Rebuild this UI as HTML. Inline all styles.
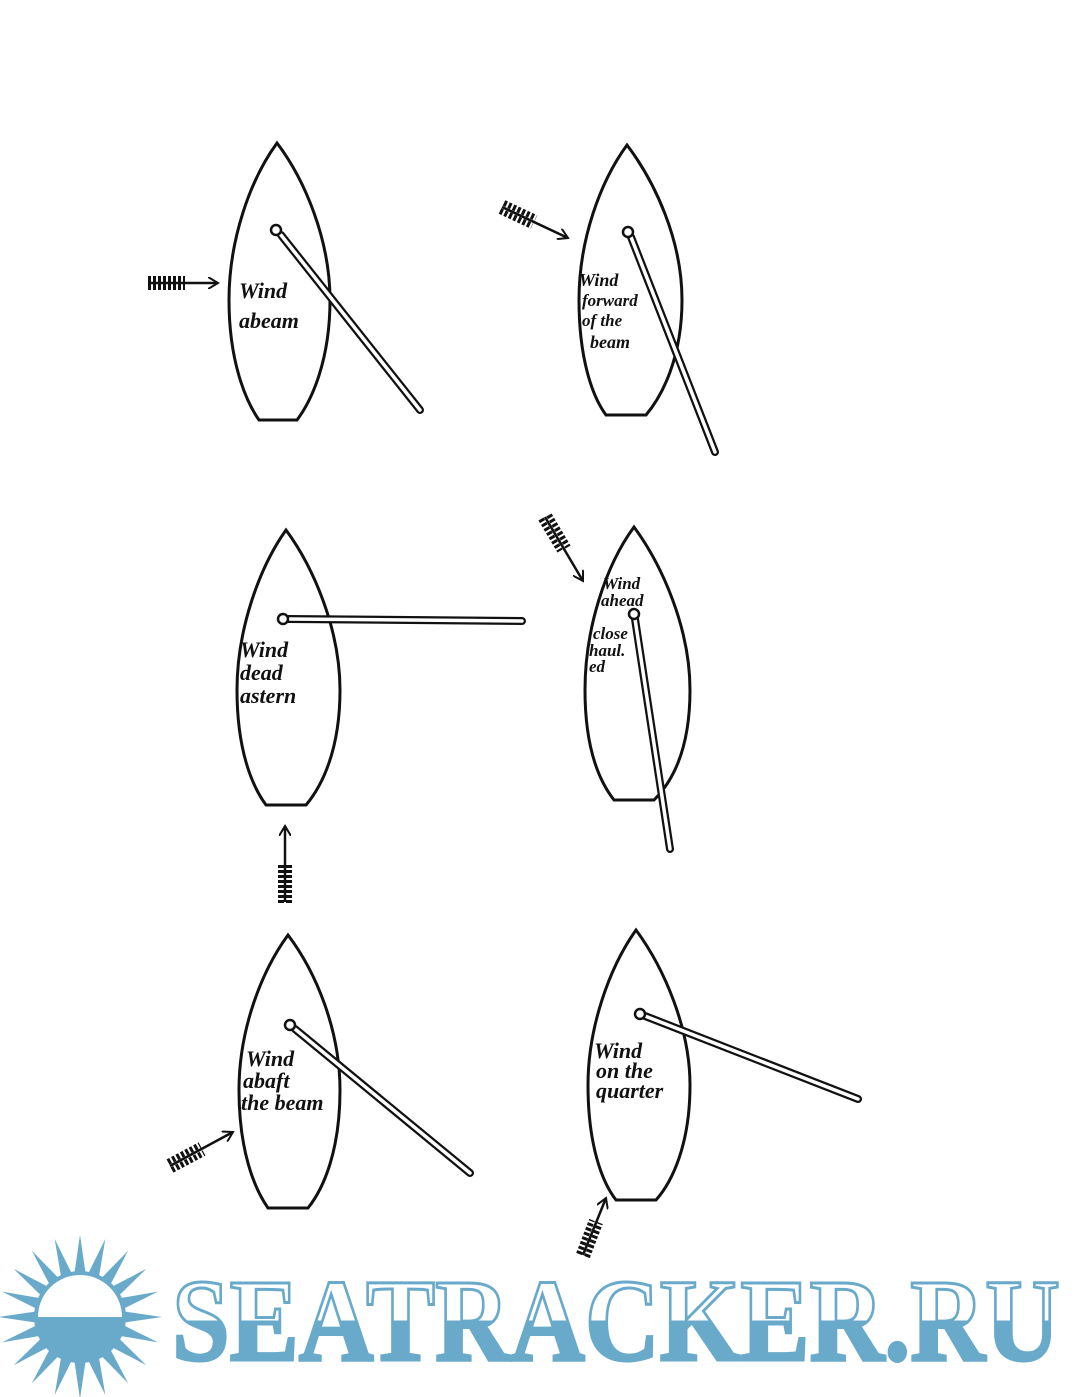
<!DOCTYPE html>
<html><head><meta charset="utf-8"><style>
html,body{margin:0;padding:0;background:#fff;}
svg{display:block}
.t{font-family:"Liberation Serif",serif;font-style:italic;font-weight:bold;fill:#111;}
</style></head><body>
<svg width="1080" height="1397" viewBox="0 0 1080 1397" xmlns="http://www.w3.org/2000/svg">
<defs>
<marker id="ah" markerWidth="12" markerHeight="12" refX="10" refY="6" orient="auto" markerUnits="userSpaceOnUse">
<path d="M0,0 L10,6 L0,12" fill="none" stroke="#111" stroke-width="2"/>
</marker>
<linearGradient id="lg" x1="0" y1="0" x2="0" y2="1">
<stop offset="0.5" stop-color="#fff"/><stop offset="0.5" stop-color="#69aacb"/>
</linearGradient>
</defs>
<g fill="none" stroke="#111" stroke-width="3">
<path d="M277,143 C250,180 229,240 229,300 C229,360 245,400 259,420 L297,420 C312,400 330,360 330,300 C330,240 305,180 277,143 Z"/>
<path d="M627,145 C600,182 579,240 579,300 C579,358 592,396 606,415 L646,415 C662,396 682,358 682,300 C682,240 655,182 627,145 Z"/>
<path d="M286,530 C259,568 237,630 237,690 C237,750 252,786 266,805 L306,805 C322,786 340,750 340,690 C340,630 314,568 286,530 Z"/>
<path d="M634,527 C606,565 585,628 585,690 C585,750 600,782 614,800 L654,800 C672,782 690,750 690,690 C690,628 662,565 634,527 Z"/>
<path d="M288,935 C261,972 239,1030 239,1090 C239,1150 254,1188 268,1208 L308,1208 C324,1188 340,1150 340,1090 C340,1030 316,972 288,935 Z"/>
<path d="M636,930 C609,968 588,1028 588,1085 C588,1145 602,1182 616,1200 L656,1200 C672,1182 690,1145 690,1085 C690,1028 664,968 636,930 Z"/>
</g>
<g stroke-linecap="round">
<g stroke="#111" stroke-width="8"><line x1="281" y1="235" x2="420" y2="410"/><line x1="631" y1="237" x2="715" y2="452"/><line x1="288" y1="619" x2="522" y2="621"/><line x1="635" y1="619" x2="670" y2="849"/><line x1="295" y1="1029" x2="470" y2="1173"/><line x1="645" y1="1016" x2="858" y2="1099"/></g>
<g stroke="#fff" stroke-width="3.5"><line x1="281" y1="235" x2="420" y2="410"/><line x1="631" y1="237" x2="715" y2="452"/><line x1="288" y1="619" x2="522" y2="621"/><line x1="635" y1="619" x2="670" y2="849"/><line x1="295" y1="1029" x2="470" y2="1173"/><line x1="645" y1="1016" x2="858" y2="1099"/></g>
</g>
<g fill="#fff" stroke="#111" stroke-width="2.5">
<circle cx="276" cy="230" r="5"/><circle cx="628" cy="232" r="5"/><circle cx="283" cy="619" r="5"/><circle cx="634" cy="614" r="5"/><circle cx="290" cy="1025" r="5"/><circle cx="640" cy="1014" r="5"/>
</g>
<g stroke="#111" stroke-width="2.5" fill="none" marker-end="url(#ah)">
<line x1="148" y1="283" x2="218" y2="283"/>
<line x1="502" y1="207" x2="568" y2="238"/>
<line x1="545" y1="517" x2="583" y2="581"/>
<line x1="285" y1="902" x2="285" y2="826"/>
<line x1="170" y1="1166" x2="233" y2="1132"/>
<line x1="583" y1="1255" x2="606" y2="1198"/>
</g>
<g stroke="#111" stroke-width="6" stroke-dasharray="3 2">
<line x1="148" y1="279" x2="185" y2="279"/><line x1="148" y1="287" x2="185" y2="287"/>
<line x1="504" y1="203" x2="536" y2="218"/><line x1="500" y1="211" x2="532" y2="226"/>
<line x1="541" y1="519" x2="560" y2="551"/><line x1="549" y1="515" x2="568" y2="547"/>
<line x1="281" y1="903" x2="281" y2="865"/><line x1="289" y1="903" x2="289" y2="865"/>
<line x1="168" y1="1162" x2="200" y2="1145"/><line x1="172" y1="1170" x2="204" y2="1153"/>
<line x1="579" y1="1254" x2="592" y2="1220"/><line x1="587" y1="1257" x2="600" y2="1223"/>
</g>
<g class="t" font-size="22">
<text x="239" y="298">Wind</text><text x="239" y="328">abeam</text>
<text x="579" y="286" font-size="18">Wind</text><text x="582" y="306" font-size="17">forward</text><text x="582" y="326" font-size="17">of the</text><text x="590" y="348" font-size="18">beam</text>
<text x="240" y="657">Wind</text><text x="240" y="680">dead</text><text x="240" y="703">astern</text>
<text x="603" y="589" font-size="17">Wind</text><text x="601" y="606" font-size="17">ahead</text><text x="593" y="639" font-size="17">close</text><text x="589" y="656" font-size="17">haul.</text><text x="589" y="672" font-size="17">ed</text>
<text x="246" y="1066">Wind</text><text x="243" y="1088">abaft</text><text x="241" y="1110">the beam</text>
<text x="594" y="1058">Wind</text><text x="596" y="1078">on the</text><text x="596" y="1098">quarter</text>
</g>
<g transform="translate(80,1317)" fill="#69aacb">
<g id="r"><polygon points="0,-82 12,0 0,82 -12,0"/></g>
<use href="#r" transform="rotate(18)"/><use href="#r" transform="rotate(36)"/><use href="#r" transform="rotate(54)"/><use href="#r" transform="rotate(72)"/><use href="#r" transform="rotate(90)"/><use href="#r" transform="rotate(108)"/><use href="#r" transform="rotate(126)"/><use href="#r" transform="rotate(144)"/><use href="#r" transform="rotate(162)"/>
<circle r="46"/>
<path d="M-42,0 A42,42 0 0 1 42,0 Z" fill="#fff"/>
</g>
<text x="172" y="1360" font-family="Liberation Serif,serif" font-weight="bold" font-size="118" textLength="888" lengthAdjust="spacingAndGlyphs" fill="url(#lg)" stroke="#69aacb" stroke-width="3">SEATRACKER.RU</text>
</svg>
</body></html>
